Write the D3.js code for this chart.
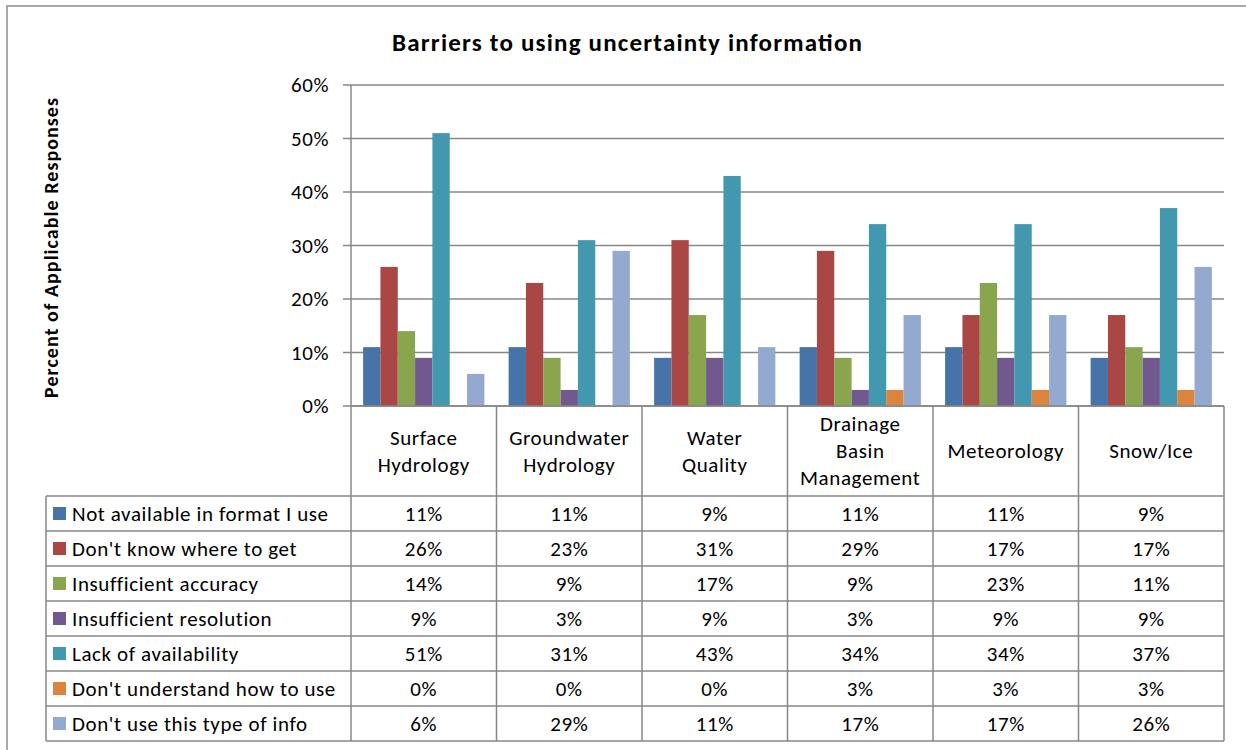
<!DOCTYPE html>
<html>
<head>
<meta charset="utf-8">
<script src="https://cdn.jsdelivr.net/npm/d3@7"></script>
<style>
body { margin: 0; background: #fff; }
text { font-family: Calibri, Carlito, Lato, "Open Sans", sans-serif; fill: #000; }
.lbl { font-size: 21px; letter-spacing: 0.6px; }
</style>
</head>
<body>
<svg id="chart" width="1246" height="750"></svg>
<script>
const categories = [
	['Surface', 'Hydrology'],
	['Groundwater', 'Hydrology'],
	['Water', 'Quality'],
	['Drainage', 'Basin', 'Management'],
	['Meteorology'],
	['Snow/Ice']
];
const seriesNames = [
	'Not available in format I use',
	"Don't know where to get",
	'Insufficient accuracy',
	'Insufficient resolution',
	'Lack of availability',
	"Don't understand how to use",
	"Don't use this type of info"
];
const notAvailable = [0.11, 0.11, 0.09, 0.11, 0.11, 0.09];
const dontKnowWhere = [0.26, 0.23, 0.31, 0.29, 0.17, 0.17];
const accuracy = [0.14, 0.09, 0.17, 0.09, 0.23, 0.11];
const resolution = [0.09, 0.03, 0.09, 0.03, 0.09, 0.09];
const lackAvail = [0.51, 0.31, 0.43, 0.34, 0.34, 0.37];
const dontUnderstand = [0, 0, 0, 0.03, 0.03, 0.03];
const dontUse = [0.06, 0.29, 0.11, 0.17, 0.17, 0.26];
const yTicks = [0, 0.1, 0.2, 0.3, 0.4, 0.5, 0.6];
const colors = ['#4673A8', '#AA4643', '#89A54E', '#71588F', '#4198AF', '#DB843D', '#93A9CF'];

const series = [notAvailable, dontKnowWhere, accuracy, resolution, lackAvail, dontUnderstand, dontUse];

const svg = d3.select('#chart');
const plotLeft = 351, plotRight = 1224, plotTop = 85, base = 406;
const headerBottom = 496, rowH = 35, tableLeft = 46;
const gridCol = '#878787';

// outer border
svg.append('rect').attr('x', 7).attr('y', 6).attr('width', 1300).attr('height', 800)
	.attr('fill', 'none').attr('stroke', '#8c8c8c').attr('stroke-width', 1.5);

const x = d3.scaleBand().domain(d3.range(categories.length)).range([plotLeft, plotRight]);
const xs = d3.scaleBand().domain(d3.range(series.length)).range([0, x.bandwidth()]).paddingOuter(0.7);
const y = d3.scaleLinear().domain([0, 0.6]).range([base, plotTop]);

// gridlines
svg.append('g').selectAll('line').data(yTicks).enter().append('line')
	.attr('x1', plotLeft - 8).attr('x2', plotRight)
	.attr('y1', d => y(d)).attr('y2', d => y(d))
	.attr('stroke', gridCol).attr('stroke-width', 1.3);

svg.append('line').attr('x1', plotLeft).attr('x2', plotLeft).attr('y1', plotTop).attr('y2', base)
	.attr('stroke', gridCol).attr('stroke-width', 1.5);

svg.append('g').selectAll('text').data(yTicks).enter().append('text')
	.attr('class', 'lbl')
	.attr('x', plotLeft - 22).attr('y', d => y(d)).attr('dy', '0.35em')
	.attr('text-anchor', 'end')
	.text(d3.format('.0%'));

// bars
series.forEach((vals, s) => {
	svg.append('g').selectAll('rect').data(vals).enter().append('rect')
		.attr('x', (d, i) => x(i) + xs(s))
		.attr('y', d => y(d))
		.attr('width', xs.bandwidth())
		.attr('height', d => base - y(d))
		.attr('fill', colors[s]);
});

// data table
const tableBottom = headerBottom + rowH * series.length;
const t = svg.append('g');
t.append('line').attr('x1', plotLeft).attr('x2', plotRight).attr('y1', base).attr('y2', base)
	.attr('stroke', gridCol).attr('stroke-width', 1.5);
t.selectAll('.hl').data(d3.range(series.length + 1)).enter().append('line')
	.attr('x1', tableLeft).attr('x2', plotRight)
	.attr('y1', i => headerBottom + i * rowH).attr('y2', i => headerBottom + i * rowH)
	.attr('stroke', gridCol).attr('stroke-width', 1.5);
t.append('line').attr('x1', tableLeft).attr('x2', tableLeft).attr('y1', headerBottom).attr('y2', tableBottom)
	.attr('stroke', gridCol).attr('stroke-width', 1.5);
t.selectAll('.vl').data(d3.range(categories.length + 1)).enter().append('line')
	.attr('x1', i => plotLeft + i * x.step()).attr('x2', i => plotLeft + i * x.step())
	.attr('y1', base).attr('y2', tableBottom)
	.attr('stroke', gridCol).attr('stroke-width', 1.5);

// header labels
categories.forEach((lines, i) => {
	const cy = (base + headerBottom) / 2;
	const lh = 27;
	t.append('text').attr('class', 'lbl').attr('text-anchor', 'middle')
		.selectAll('tspan').data(lines).enter().append('tspan')
		.attr('x', x(i) + x.bandwidth() / 2)
		.attr('y', (d, k) => cy + (k - (lines.length - 1) / 2) * lh)
		.attr('dy', '0.35em')
		.text(d => d);
});

// rows
series.forEach((vals, s) => {
	const cy = headerBottom + s * rowH + rowH / 2;
	t.append('rect').attr('x', 53).attr('y', cy - 6.5).attr('width', 13).attr('height', 13).attr('fill', colors[s]);
	t.append('text').attr('class', 'lbl').attr('x', 72).attr('y', cy).attr('dy', '0.35em')
		.text(seriesNames[s]);
	t.selectAll(null).data(vals).enter().append('text')
		.attr('class', 'lbl')
		.attr('x', (d, i) => x(i) + x.bandwidth() / 2).attr('y', cy).attr('dy', '0.35em')
		.attr('text-anchor', 'middle')
		.text(d3.format('.0%'));
});

// titles
svg.append('text').attr('x', 627).attr('y', 42).attr('dy', '0.35em').attr('text-anchor', 'middle')
	.style('font-size', '25px').style('font-weight', 'bold')
	.attr('textLength', 470).attr('lengthAdjust', 'spacing')
	.text('Barriers to using uncertainty information');

svg.append('text').attr('transform', 'translate(51,248) rotate(-90)').attr('dy', '0.35em')
	.attr('text-anchor', 'middle').style('font-size', '20px').style('font-weight', 'bold')
	.attr('textLength', 300).attr('lengthAdjust', 'spacing')
	.text('Percent of Applicable  Responses');
</script>
</body>
</html>
